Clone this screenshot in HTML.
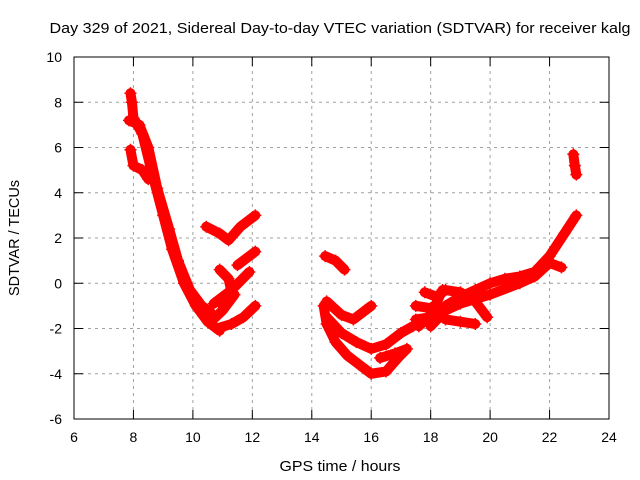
<!DOCTYPE html>
<html><head><meta charset="utf-8"><style>
body{margin:0;background:#fff}
svg{display:block;font-family:"Liberation Sans",sans-serif}
</style></head><body>
<svg id="c" width="640" height="480">
<rect width="640" height="480" fill="#fff"/>
<text x="340" y="33" text-anchor="middle" font-size="15" textLength="581" lengthAdjust="spacingAndGlyphs">Day 329 of 2021, Sidereal Day-to-day VTEC variation (SDTVAR) for receiver kalg</text>
<text x="340" y="471" text-anchor="middle" font-size="15" textLength="121" lengthAdjust="spacingAndGlyphs">GPS time / hours</text>
<text transform="translate(19,238) rotate(-90)" text-anchor="middle" font-size="15" textLength="116" lengthAdjust="spacingAndGlyphs">SDTVAR / TECUs</text>
<g id="grid"></g><g id="ticks"></g><g id="marks"></g>
<rect x="74" y="57" width="535" height="362" fill="none" stroke="#000"/>
</svg>
<script>
const xTicks=[6,8,10,12,14,16,18,20,22,24];
const yTicks=[-6,-4,-2,0,2,4,6,8,10];
const track1=[[7.9,8.4],[7.95,8.0],[8.0,7.3],[8.3,6.6],[8.6,5.0],[9.0,3.0],[9.3,1.5],[9.7,0],[10.1,-1.0],[10.5,-1.7],[10.9,-2.1]];
const track2=[[7.85,7.2],[8.2,7.0],[8.5,6.0],[8.8,4.2],[9.2,2.4],[9.5,1.0],[9.9,-0.3],[10.3,-1.0],[10.6,-1.3]];
const track3=[[7.9,5.9],[8.0,5.2],[8.3,5.0],[8.5,4.6]];
const track4=[[10.8,-2.0],[11.3,-1.8],[11.7,-1.5],[12.1,-1.0]];
const track5=[[10.6,-1.7],[11.0,-1.2],[11.4,-0.5]];
const track6=[[10.9,0.6],[11.2,0.2],[11.3,-0.4],[11.0,-1.0]];
const track7=[[10.7,-0.9],[11.3,-0.3],[11.9,0.5]];
const track8=[[11.5,0.8],[12.1,1.4]];
const track9=[[10.45,2.5],[10.9,2.2],[11.2,1.9],[11.6,2.5],[12.1,3.0]];
const track10=[[14.45,1.2],[14.8,1.0],[15.1,0.6]];
const track11=[[14.4,-1.0],[14.5,-1.8],[14.8,-2.6],[15.2,-3.2],[15.6,-3.6],[16.0,-4.0],[16.5,-3.9],[16.9,-3.3],[17.2,-2.9],[16.8,-3.1],[16.3,-3.3]];
const track12=[[14.5,-1.5],[15.0,-2.2],[15.5,-2.6],[16.0,-2.9],[16.5,-2.7],[17.0,-2.2],[17.4,-1.9]];
const track13=[[14.5,-0.8],[15.0,-1.4],[15.4,-1.6],[15.8,-1.2],[16.0,-1.0]];
const track14=[[17.5,-1.6],[18.0,-1.5],[18.5,-1.0],[19.0,-0.6],[19.5,-0.3],[20.0,0],[20.5,0.2],[21.0,0.3],[21.5,0.5],[22.0,1.2],[22.5,2.2],[22.9,3.0]];
const track15=[[17.5,-1.0],[18.0,-1.1],[18.5,-1.6],[19.0,-1.7],[19.5,-1.8]];
const track16=[[17.8,-0.4],[18.2,-0.6],[18.5,-0.3],[19.0,-0.4],[19.5,-0.8],[19.9,-1.5]];
const track17=[[18.0,-1.9],[18.5,-1.2],[19.0,-0.9],[20.0,-0.5],[21.0,0],[21.5,0.3],[22.0,0.9],[22.4,0.7]];
const track18=[[17.6,-1.9],[18.0,-1.4],[18.4,-0.3]];
const track19=[[22.8,5.7],[22.85,5.2],[22.9,4.8]];
const tracks=[track1,track2,track3,track4,track5,track6,track7,track8,track9,track10,track11,track12,track13,track14,track15,track16,track17,track18,track19];
const NS="http://www.w3.org/2000/svg";
const X=h=>74+(h-6)/18*535, Y=v=>419-(v+6)/16*362;
function mk(t,a,p){const e=document.createElementNS(NS,t);for(const k in a)e.setAttribute(k,a[k]);p.appendChild(e);return e;}
const grid=document.getElementById('grid'),ticks=document.getElementById('ticks'),marks=document.getElementById('marks');
xTicks.forEach(t=>{const x=X(t);
 if(t>6&&t<24){const g=mk('line',{x1:x,x2:x,y1:57,y2:419,stroke:'#a0a0a0','stroke-dasharray':'3,4'},grid);}
 mk('line',{x1:x,x2:x,y1:419,y2:410,stroke:'#000'},ticks);mk('line',{x1:x,x2:x,y1:57,y2:66,stroke:'#000'},ticks);
 const l=mk('text',{x:x,y:442,'text-anchor':'middle','font-size':14},ticks);l.textContent=t;
 });
yTicks.forEach(t=>{const y=Y(t);
 if(t>-6&&t<10){const g=mk('line',{x1:74,x2:609,y1:y,y2:y,stroke:'#a0a0a0','stroke-dasharray':'3,4'},grid);}
 mk('line',{x1:74,x2:83,y1:y,y2:y,stroke:'#000'},ticks);mk('line',{x1:600,x2:609,y1:y,y2:y,stroke:'#000'},ticks);
 const l=mk('text',{x:62,y:y+5,'text-anchor':'end','font-size':14},ticks);l.textContent=t;
 });
tracks.forEach((tr,i)=>{
 const p=mk('polyline',{points:tr.map(d=>X(d[0])+','+Y(d[1])).join(' '),fill:'none',stroke:'#f00','stroke-width':10,'stroke-linejoin':'round','stroke-linecap':'round'},marks);
 
 
 tr.forEach(d=>{const x=X(d[0]),y=Y(d[1]);
  const m=mk('path',{d:`M${x-6},${y}h12M${x},${y-6}v12`,stroke:'#f00','stroke-width':1.5},marks);
  
  });
});
</script>
</body></html>
